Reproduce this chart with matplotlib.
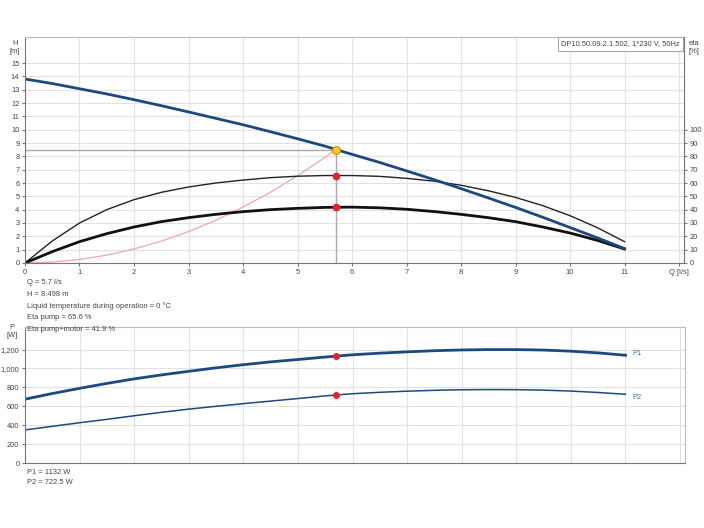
import matplotlib.pyplot as plt
from matplotlib.ticker import FuncFormatter

plt.rcParams['font.family'] = ['Liberation Sans', 'DejaVu Sans']
fs = 5.4
plt.rcParams['font.size'] = fs

# Q-Achse [l/s]
q = [0, 0.5, 1, 1.5, 2, 2.5, 3, 3.5, 4, 4.5, 5, 5.5, 6, 6.5, 7, 7.5, 8, 8.5, 9, 9.5, 10, 10.5, 11]
# Foerderhoehe H [m]
head = [13.8, 13.46, 13.07, 12.68, 12.25, 11.8, 11.33, 10.85, 10.37, 9.85, 9.32, 8.77,
        8.15, 7.55, 6.91, 6.26, 5.58, 4.88, 4.17, 3.43, 2.66, 1.89, 1.08]
# Wirkungsgrad Pumpe [%]
eta_pump = [0, 16.5, 30, 40, 47.5, 53, 57, 60, 62.2, 64, 65.1, 65.6, 65.6, 65, 63.5, 61.4,
            58.3, 54.2, 49.2, 43, 35.5, 26.5, 16]
# Wirkungsgrad Pumpe+Motor [%]
eta_total = [0, 8.5, 16, 22, 27, 31, 34, 36.5, 38.5, 40, 41, 41.7, 41.9, 41.4, 40.3, 38.6,
             36.5, 34, 31, 27, 22.5, 17, 10.5]
# Leistung P1 / P2 [W]
p1 = [675, 735, 790, 842, 890, 932, 970, 1007, 1040, 1070, 1095, 1121, 1145, 1162, 1176,
      1188, 1196, 1200, 1200, 1195, 1183, 1165, 1140]
p2 = [350, 388, 426, 462, 500, 536, 570, 600, 628, 655, 682, 710, 733, 748, 760, 769, 775,
      777, 776, 771, 761, 746, 727]

# Anlagenkennlinie bis Betriebspunkt
q_sys = [0, 0.5, 1, 1.5, 2, 2.5, 3, 3.5, 4, 4.5, 5, 5.5, 5.7]
h_sys = [0, 0.07, 0.26, 0.59, 1.05, 1.64, 2.35, 3.2, 4.19, 5.3, 6.54, 7.91, 8.498]

# Betriebspunkt
q_op = 5.7
h_op = 8.498
eta_pump_op = 65.6
eta_total_op = 41.9
p1_op = 1132
p2_op = 722.5

blue = '#1c4a80'
grid_c = '#e2e2e2'
axis_c = '#777777'
txt_c = '#444444'

fig = plt.figure(figsize=(7.04, 5.28), dpi=100)

# ---- oberes Diagramm: H und eta ----
ax = fig.add_axes([0.0355, 0.5019, 0.936, 0.428])
ax.set_xlim(0, 12.09)
ax.set_ylim(0, 16.95)
ax.set_xticks(range(13))
ax.set_xticklabels([str(i) for i in range(12)] + ['Q [l/s]'])
ax.set_yticks(range(16))
ax.grid(True, color=grid_c, linewidth=0.8)
ax.set_axisbelow(True)

ax.plot(q_sys, h_sys, color='#f0a8a8', linewidth=0.9)
ax.plot([0, q_op], [h_op, h_op], color='#aaaaaa', linewidth=1)
ax.plot([q_op, q_op], [0, h_op], color='#aaaaaa', linewidth=1)
# eta auf H-Skala: 10 % = 1 m
ax.plot(q, [e / 10 for e in eta_pump], color='#222222', linewidth=1)
ax.plot(q, [e / 10 for e in eta_total], color='#111111', linewidth=2)
ax.plot(q, head, color=blue, linewidth=2)
ax.plot(q_op, eta_pump_op / 10, 'o', color='#e8202a', markersize=4.5)
ax.plot(q_op, eta_total_op / 10, 'o', color='#e8202a', markersize=4.5)
ax.plot(q_op, h_op, 'o', color='#ffd21f', markeredgecolor='#e09000', markersize=5.5)

for s in ['top', 'right']:
    ax.spines[s].set_color('#bbbbbb')
for s in ['left', 'bottom']:
    ax.spines[s].set_color(axis_c)
ax.tick_params(colors=axis_c, labelcolor=txt_c, length=2.5, width=0.8, pad=1.5)

ax2 = ax.twinx()
ax2.set_ylim(0, 169.5)
ax2.set_yticks(range(0, 101, 10))
ax2.spines['right'].set_color(axis_c)
ax2.spines['top'].set_visible(False)
ax2.spines['left'].set_visible(False)
ax2.spines['bottom'].set_visible(False)
ax2.tick_params(colors=axis_c, labelcolor=txt_c, length=2.5, width=0.8, pad=1.5)

fig.text(0.021, 0.924, 'H\n[m]', ha='center', va='top', color=txt_c, fontsize=fs, linespacing=1.1)
fig.text(0.985, 0.924, 'eta\n[%]', ha='center', va='top', color=txt_c, fontsize=fs, linespacing=1.1)
ax.text(0.994, 0.985, 'DP10.50.09.2.1.502, 1*230 V, 50Hz', transform=ax.transAxes,
        ha='right', va='top', color=txt_c, fontsize=fs,
        bbox=dict(boxstyle='square,pad=0.45', facecolor='white', edgecolor='#aaaaaa', linewidth=0.8))

info = ['Q = 5.7 l/s', 'H = 8.498 m', 'Liquid temperature during operation = 0 \u00b0C',
        'Eta pump = 65.6 %', 'Eta pump+motor = 41.9 %']
for i, line in enumerate(info):
    fig.text(0.038, 1 - (283 + i * 11.6) / 528, line, ha='left', va='center', color=txt_c, fontsize=fs)

# ---- unteres Diagramm: Leistung ----
bx = fig.add_axes([0.0355, 0.1231, 0.9375, 0.2576])
bx.set_xlim(0, 12.09)
bx.set_ylim(0, 1439)
bx.set_xticks(range(13))
bx.set_xticklabels([])
bx.set_yticks(range(0, 1201, 200))
bx.yaxis.set_major_formatter(FuncFormatter(lambda v, p: f'{int(v):,}'))
bx.grid(True, color=grid_c, linewidth=0.8)
bx.set_axisbelow(True)

bx.plot(q, p1, color=blue, linewidth=2)
bx.plot(q, p2, color=blue, linewidth=1.1)
bx.plot(q_op, p1_op, 'o', color='#e8202a', markersize=4)
bx.plot(q_op, p2_op, 'o', color='#e8202a', markersize=4)
bx.text(11.13, p1[-1] + 20, 'P1', color='#3d6a9e', fontsize=fs, va='center')
bx.text(11.13, p2[-1] - 30, 'P2', color='#3d6a9e', fontsize=fs, va='center')

for s in ['top', 'right']:
    bx.spines[s].set_color('#bbbbbb')
for s in ['left', 'bottom']:
    bx.spines[s].set_color(axis_c)
bx.tick_params(colors=axis_c, labelcolor=txt_c, length=2.5, width=0.8, pad=1.5)
bx.tick_params(axis='x', length=0)

fig.text(0.017, 0.386, 'P\n[W]', ha='center', va='top', color=txt_c, fontsize=fs, linespacing=1.1)
fig.text(0.038, 1 - 472 / 528, 'P1 = 1132 W', ha='left', va='center', color=txt_c, fontsize=fs)
fig.text(0.038, 1 - 482 / 528, 'P2 = 722.5 W', ha='left', va='center', color=txt_c, fontsize=fs)

fig.savefig('out.png', dpi=100)
